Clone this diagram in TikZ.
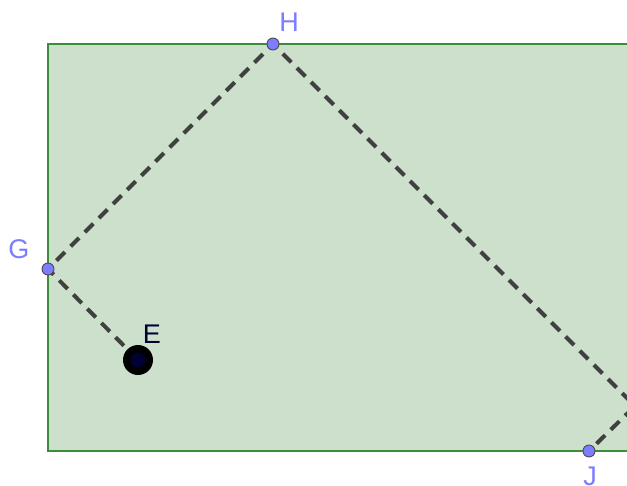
\documentclass[tikz,border=0pt]{standalone}
\usepackage{fontspec}
\setmainfont{Liberation Sans}
\definecolor{fillg}{RGB}{204,224,204}
\definecolor{edgeg}{RGB}{60,140,60}
\definecolor{dashc}{RGB}{64,64,64}
\definecolor{ptblue}{RGB}{125,125,255}
\definecolor{navy}{RGB}{0,0,50}
\tikzset{
  pt/.style={circle,fill=ptblue,draw=black!70,line width=0.9pt,inner sep=0pt,minimum size=12pt},
  lbl/.style={text=ptblue,font=\fontsize{27}{27}\selectfont,inner sep=0pt},
  dsh/.style={draw=dashc,line width=4pt,dash pattern=on 12pt off 8pt}
}
\begin{document}
\begin{tikzpicture}[x=1pt,y=-1pt]
\useasboundingbox (0,0) rectangle (627,485);
\clip (0,0) rectangle (627,485);
\fill[white] (0,0) rectangle (627,485);
\draw[fill=fillg,draw=edgeg,line width=2.2pt] (48,44) rectangle (700,451);
\coordinate (E) at (138,360);
\coordinate (G) at (48,269);
\coordinate (H) at (273,44);
\coordinate (K) at (635,406);
\coordinate (J) at (589,451);
\draw[dsh] (E) -- (G) -- (H) -- (K) -- (J);
\node[pt] (g) at (G) {};
\node[pt] (h) at (H) {};
\node[pt] (j) at (J) {};
\node[circle,fill=black,inner sep=0pt,minimum size=30pt] (e) at (E) {};
\node[circle,fill=navy,inner sep=0pt,minimum size=15pt] at (E) {};
\node[lbl] at (19,249) {G};
\node[lbl] at (289,22) {H};
\node[lbl,text=navy] at (152,334) {E};
\node[lbl] at (590,476) {J};
\end{tikzpicture}
\end{document}
